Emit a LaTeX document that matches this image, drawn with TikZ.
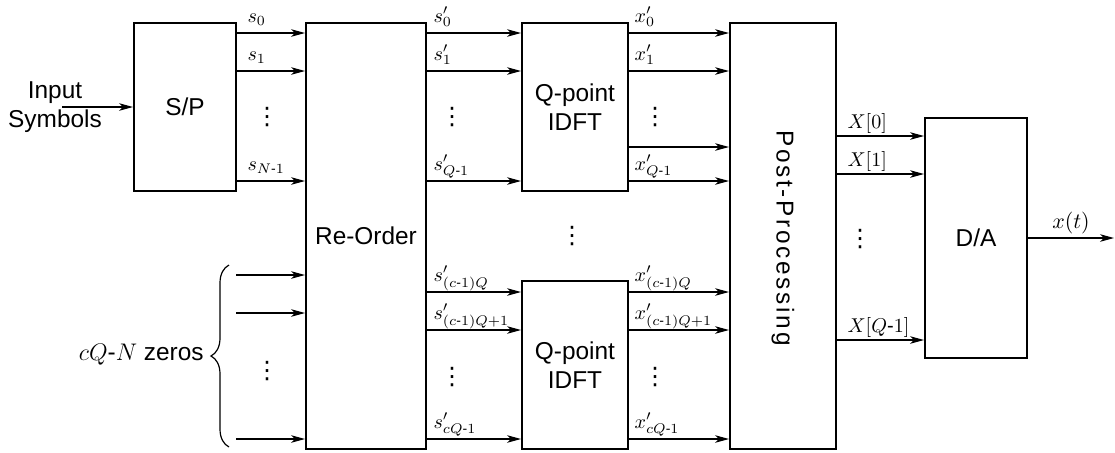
\documentclass[tikz,border=0pt]{standalone}
\usepackage{amsmath}
\usepackage[no-math]{fontspec}
\setmainfont{Liberation Sans}
\newfontfamily\spacedsans[LetterSpace=11]{Liberation Sans}
\newfontfamily\djv{DejaVu Sans}
\usetikzlibrary{arrows.meta,decorations.pathreplacing}
\newcommand\mh{\text{-}}
\tikzset{
  box/.style={draw, line width=1pt, inner sep=0pt, font=\fontsize{12.2}{14.6}\selectfont},
  arr/.style={line width=0.6pt, -{Stealth[length=7pt,width=3.8pt,inset=2pt]}},
  lab/.style={inner sep=0pt, anchor=base west, font=\fontsize{10}{12}\selectfont},
  dotsn/.style={inner sep=0pt, font=\djv\fontsize{12}{14}\selectfont},
  txt/.style={inner sep=0pt, font=\fontsize{12.2}{14.6}\selectfont}
}
\begin{document}
\begin{tikzpicture}[x=0.5pt,y=-0.5pt]
\useasboundingbox (0,0) rectangle (1115,452);
% boxes
\node[box, minimum width=51pt, minimum height=84pt] (sp) at (185,107) {S/P};
\node[box, minimum width=60pt, minimum height=213pt] (ro) at (366,236) {Re-Order};
\node[box, minimum width=53pt, minimum height=84pt, align=center] (id1) at (575,107) {Q-point\\IDFT};
\node[box, minimum width=53pt, minimum height=84pt, align=center] (id2) at (575,365) {Q-point\\IDFT};
\node[box, minimum width=53pt, minimum height=213pt] (pp) at (783,236) {};
\node[txt, rotate=-90] (pptxt) at (783,238) {\spacedsans Post-Processing};
\node[box, minimum width=51pt, minimum height=120pt] (da) at (976,238) {D/A};
% input
\node[txt, align=center] (inp) at (55,107) {Input\\Symbols};
\coordinate (in) at (62,107);
\draw[arr] (in) -- (sp.west);
% S/P -> Re-Order
\draw[arr] (sp.east |- 0,33) -- (ro.west |- 0,33) node[lab, pos=0, xshift=5pt, yshift=5.5pt] {$s_0$};
\draw[arr] (sp.east |- 0,71) -- (ro.west |- 0,71) node[lab, pos=0, xshift=5pt, yshift=5.5pt] {$s_1$};
\draw[arr] (sp.east |- 0,181) -- (ro.west |- 0,181) node[lab, pos=0, xshift=5pt, yshift=5.5pt] {$s_{N\mh 1}$};
\node[dotsn] (d1) at (267,117) {⋮};
% zeros
\coordinate (z1) at (236,275);
\coordinate (z2) at (236,313);
\coordinate (z3) at (236,439);
\draw[arr] (z1) -- (ro.west |- z1);
\draw[arr] (z2) -- (ro.west |- z2);
\draw[arr] (z3) -- (ro.west |- z3);
\node[dotsn] (d2) at (267,371) {⋮};
\coordinate (bb) at (229,447);
\coordinate (bt) at (229,265);
\draw[line width=0.6pt, decorate, decoration={brace, amplitude=9pt}] (bb) -- (bt);
\node[txt, anchor=east] (zl) at (204,355) {$cQ$\mh$N$ zeros};
% Re-Order -> IDFT 1
\draw[arr] (ro.east |- 0,33) -- (id1.west |- 0,33) node[lab, pos=0, xshift=3pt, yshift=5.5pt] {$s'_0$};
\draw[arr] (ro.east |- 0,71) -- (id1.west |- 0,71) node[lab, pos=0, xshift=3pt, yshift=5.5pt] {$s'_1$};
\draw[arr] (ro.east |- 0,181) -- (id1.west |- 0,181) node[lab, pos=0, xshift=3pt, yshift=5.5pt] {$s'_{Q\mh 1}$};
\node[dotsn] (d3) at (452,117) {⋮};
% IDFT 1 -> Post
\draw[arr] (id1.east |- 0,33) -- (pp.west |- 0,33) node[lab, pos=0, xshift=2.5pt, yshift=5.5pt] {$x'_0$};
\draw[arr] (id1.east |- 0,71) -- (pp.west |- 0,71) node[lab, pos=0, xshift=2.5pt, yshift=5.5pt] {$x'_1$};
\draw[arr] (id1.east |- 0,147) -- (pp.west |- 0,147);
\draw[arr] (id1.east |- 0,181) -- (pp.west |- 0,181) node[lab, pos=0, xshift=2.5pt, yshift=5.5pt] {$x'_{Q\mh 1}$};
\node[dotsn] (d4) at (655,117) {⋮};
% middle dots
\node[dotsn] (d5) at (572,236) {⋮};
% Re-Order -> IDFT 2
\draw[arr] (ro.east |- 0,292) -- (id2.west |- 0,292) node[lab, pos=0, xshift=3pt, yshift=5.5pt] {$s'_{(c\mh 1)Q}$};
\draw[arr] (ro.east |- 0,330) -- (id2.west |- 0,330) node[lab, pos=0, xshift=3pt, yshift=5.5pt] {$s'_{(c\mh 1)Q+1}$};
\draw[arr] (ro.east |- 0,439) -- (id2.west |- 0,439) node[lab, pos=0, xshift=3pt, yshift=5.5pt] {$s'_{cQ\mh 1}$};
\node[dotsn] (d6) at (452,377) {⋮};
% IDFT 2 -> Post
\draw[arr] (id2.east |- 0,292) -- (pp.west |- 0,292) node[lab, pos=0, xshift=2.5pt, yshift=5.5pt] {$x'_{(c\mh 1)Q}$};
\draw[arr] (id2.east |- 0,330) -- (pp.west |- 0,330) node[lab, pos=0, xshift=2.5pt, yshift=5.5pt] {$x'_{(c\mh 1)Q+1}$};
\draw[arr] (id2.east |- 0,439) -- (pp.west |- 0,439) node[lab, pos=0, xshift=2.5pt, yshift=5.5pt] {$x'_{cQ\mh 1}$};
\node[dotsn] (d7) at (655,377) {⋮};
% Post -> D/A
\draw[arr] (pp.east |- 0,136) -- (da.west |- 0,136) node[lab, pos=0, xshift=5pt, yshift=4pt] {$X[0]$};
\draw[arr] (pp.east |- 0,174) -- (da.west |- 0,174) node[lab, pos=0, xshift=5pt, yshift=4pt] {$X[1]$};
\draw[arr] (pp.east |- 0,340) -- (da.west |- 0,340) node[lab, pos=0, xshift=5pt, yshift=4pt] {$X[Q\mh 1]$};
\node[dotsn] (d8) at (860,239) {⋮};
% output
\coordinate (out) at (1114,238);
\draw[arr] (da.east) -- (out) node[midway, anchor=base, inner sep=0pt, yshift=5pt, font=\fontsize{11.4}{13}\selectfont] {$x(t)$};
\end{tikzpicture}
\end{document}
